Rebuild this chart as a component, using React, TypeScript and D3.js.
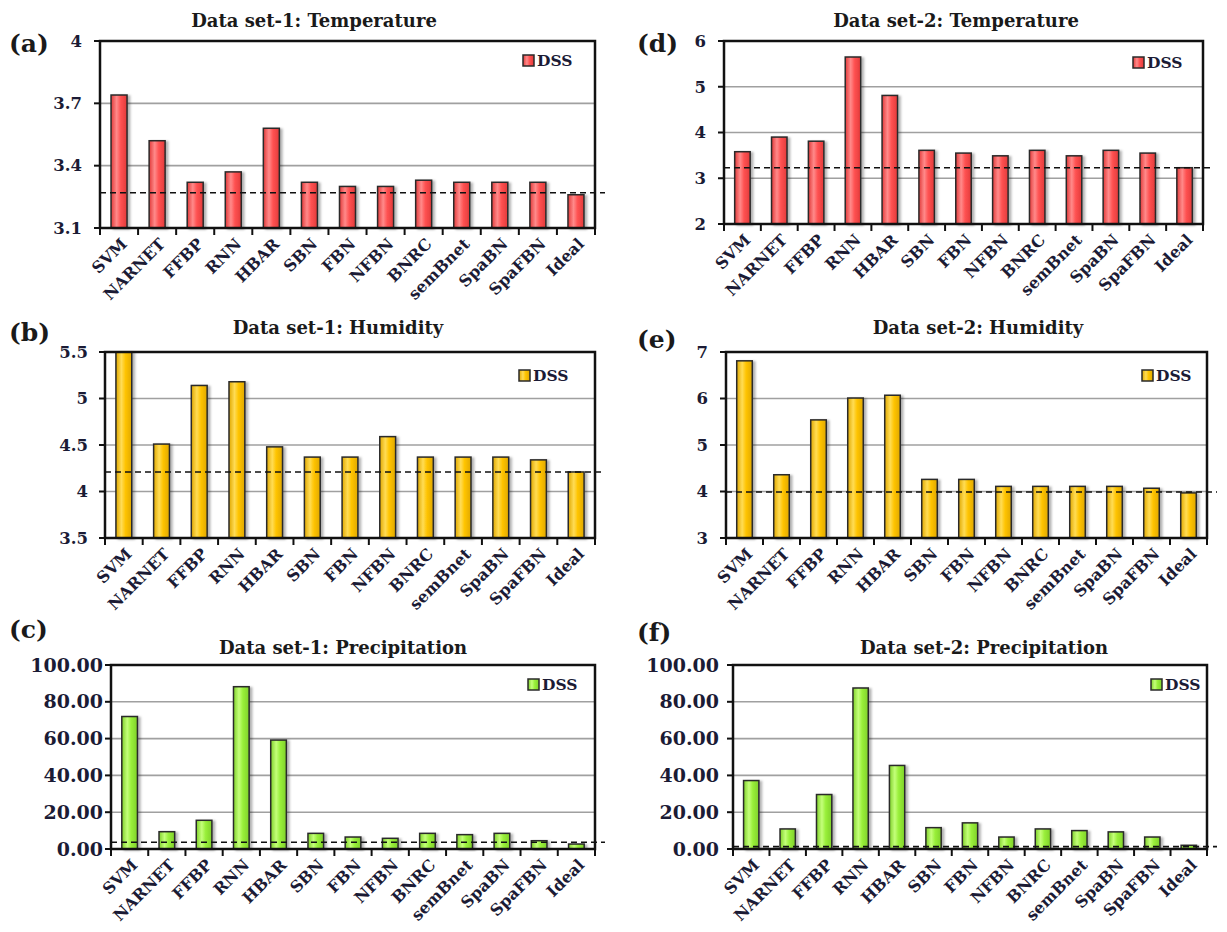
import React from "react";
import * as d3 from "d3";

const W = 1227;
const H = 932;

const methods = ["SVM", "NARNET", "FFBP", "RNN", "HBAR", "SBN", "FBN", "NFBN", "BNRC", "semBnet", "SpaBN", "SpaFBN", "Ideal"];

// DSS values
const temp1 = [3.74, 3.52, 3.32, 3.37, 3.58, 3.32, 3.30, 3.30, 3.33, 3.32, 3.32, 3.32, 3.26];
const hum1 = [5.5, 4.51, 5.14, 5.18, 4.48, 4.37, 4.37, 4.59, 4.37, 4.37, 4.37, 4.34, 4.21];
const prec1 = [72.0, 9.4, 15.6, 88.2, 59.2, 8.5, 6.5, 5.8, 8.5, 7.8, 8.5, 4.5, 2.7];
const temp2 = [3.58, 3.90, 3.81, 5.65, 4.81, 3.61, 3.55, 3.49, 3.61, 3.49, 3.61, 3.55, 3.23];
const hum2 = [6.81, 4.36, 5.54, 6.01, 6.07, 4.26, 4.26, 4.11, 4.11, 4.11, 4.11, 4.07, 3.97];
const prec2 = [37.2, 10.9, 29.6, 87.5, 45.4, 11.6, 14.2, 6.5, 10.9, 10.0, 9.3, 6.5, 2.0];

// dashed reference levels
const refLevels = { a: 3.27, b: 4.21, c: 3.7, d: 3.23, e: 3.99, f: 1.3 };

const ticksT1 = [3.1, 3.4, 3.7, 4];
const ticksH1 = [3.5, 4, 4.5, 5, 5.5];
const ticksP = [0, 20, 40, 60, 80, 100];
const ticksT2 = [2, 3, 4, 5, 6];
const ticksH2 = [3, 4, 5, 6, 7];

const titles = {
  a: "Data set-1: Temperature",
  b: "Data set-1: Humidity",
  c: "Data set-1: Precipitation",
  d: "Data set-2: Temperature",
  e: "Data set-2: Humidity",
  f: "Data set-2: Precipitation",
};

const colors = {
  red: { base: "#ff5252", light: "#ff8a8a", dark: "#e23a3a" },
  yellow: { base: "#ffc400", light: "#ffdc55", dark: "#e0a800" },
  green: { base: "#99ef3a", light: "#c4ff7a", dark: "#7fd12a" },
};

const FONT = "'DejaVu Serif', serif";
const INK = "#1b1b35";

type PanelDef = {
  key: string;
  values: number[];
  ticks: number[];
  fmt: (d: number) => string;
  color: keyof typeof colors;
  left: number; right: number; top: number; bottom: number;
  titleX: number; titleY: number;
  letterX: number; letterY: number;
  legendDx: number; legendDy: number;
  tickSize: number; labelGap: number;
};

const plain = (d: number) => String(d);
const two = d3.format(".2f");

const panels: PanelDef[] = [
  { key: "a", values: temp1, ticks: ticksT1, fmt: plain, color: "red", left: 100, right: 595, top: 41, bottom: 228, titleX: 314, titleY: 27, letterX: 9, letterY: 52, legendDx: -72, legendDy: 14, tickSize: 16.5, labelGap: 18 },
  { key: "b", values: hum1, ticks: ticksH1, fmt: plain, color: "yellow", left: 105, right: 595, top: 352, bottom: 538, titleX: 338, titleY: 334, letterX: 9, letterY: 341, legendDx: -76, legendDy: 18, tickSize: 16.5, labelGap: 17 },
  { key: "c", values: prec1, ticks: ticksP, fmt: two, color: "green", left: 111, right: 595, top: 665, bottom: 849, titleX: 343, titleY: 654, letterX: 9, letterY: 638, legendDx: -67, legendDy: 14, tickSize: 19, labelGap: 8 },
  { key: "d", values: temp2, ticks: ticksT2, fmt: plain, color: "red", left: 724, right: 1203, top: 41, bottom: 224, titleX: 956, titleY: 27, letterX: 637, letterY: 52, legendDx: -70, legendDy: 16, tickSize: 16.5, labelGap: 18 },
  { key: "e", values: hum2, ticks: ticksH2, fmt: plain, color: "yellow", left: 726, right: 1207, top: 352, bottom: 538, titleX: 978, titleY: 334, letterX: 637, letterY: 348, legendDx: -65, legendDy: 18, tickSize: 16.5, labelGap: 18 },
  { key: "f", values: prec2, ticks: ticksP, fmt: two, color: "green", left: 733, right: 1207, top: 665, bottom: 849, titleX: 984, titleY: 654, letterX: 637, letterY: 641, legendDx: -56, legendDy: 14, tickSize: 19, labelGap: 14 },
];

function Panel({ p }: { p: PanelDef }) {
  const x = d3.scaleBand<string>()
    .domain(methods)
    .range([p.left, p.right])
    .paddingInner(0.58)
    .paddingOuter(0.29);
  const y = d3.scaleLinear()
    .domain([p.ticks[0], p.ticks[p.ticks.length - 1]])
    .range([p.bottom, p.top]);
  const step = x.step();
  const bounds = d3.range(methods.length + 1).map(i => p.left + i * step);
  const ref = refLevels[p.key as keyof typeof refLevels];
  const legX = p.right + p.legendDx;
  const legY = p.top + p.legendDy;

  return (
    <g>
      <text x={p.titleX} y={p.titleY} textAnchor="middle" fontFamily={FONT} fontWeight="bold" fontSize={18} fill="#1a1a1a">
        {titles[p.key as keyof typeof titles]}
      </text>
      <text x={p.letterX} y={p.letterY} fontFamily={FONT} fontWeight="bold" fontSize={25} fill="#1a1a1a">
        ({p.key})
      </text>

      {/* gridlines */}
      {p.ticks.slice(1, -1).map(t => (
        <line key={t} x1={p.left} x2={p.right} y1={y(t)} y2={y(t)} stroke="#a0a0a0" strokeWidth={1.6} />
      ))}

      {/* bars */}
      {p.values.map((v, i) => (
        <rect
          key={methods[i]}
          x={x(methods[i])}
          y={y(v)}
          width={x.bandwidth()}
          height={p.bottom - y(v)}
          fill={`url(#grad-${p.color})`}
          stroke="#2a2a2a"
          strokeWidth={1.5}
          filter="url(#shadow)"
        />
      ))}

      {/* dashed reference */}
      <line x1={p.left} x2={p.right + 10} y1={y(ref)} y2={y(ref)} stroke="#111" strokeWidth={1.6} strokeDasharray="6,4" />

      {/* frame */}
      <rect x={p.left} y={p.top} width={p.right - p.left} height={p.bottom - p.top} fill="none" stroke="#111" strokeWidth={2.5} />

      {/* y ticks */}
      {p.ticks.map(t => (
        <g key={t}>
          <line x1={p.left - 6} x2={p.left} y1={y(t)} y2={y(t)} stroke="#111" strokeWidth={2} />
          <text x={p.left - p.labelGap} y={y(t)} dy="0.35em" textAnchor="end" fontFamily={FONT} fontWeight="bold" fontSize={p.tickSize} fill={INK}>
            {p.fmt(t)}
          </text>
        </g>
      ))}

      {/* x ticks */}
      {bounds.map((b, i) => (
        <line key={i} x1={b} x2={b} y1={p.bottom} y2={p.bottom + 7} stroke="#111" strokeWidth={2} />
      ))}
      {methods.map(m => {
        const cx = (x(m) as number) + x.bandwidth() / 2 + 9;
        const cy = p.bottom + 17;
        return (
          <text key={m} x={cx} y={cy} transform={`rotate(-45, ${cx}, ${cy})`} textAnchor="end" fontFamily={FONT} fontWeight="bold" fontSize={16} fill={INK}>
            {m}
          </text>
        );
      })}

      {/* legend */}
      <rect x={legX} y={legY} width={11} height={11} fill={`url(#grad-${p.color})`} stroke="#2a2a2a" strokeWidth={1.5} />
      <text x={legX + 14} y={legY + 11} fontFamily={FONT} fontWeight="bold" fontSize={15.5} fill={INK}>DSS</text>
    </g>
  );
}

export default function App() {
  return (
    <svg width={W} height={H} style={{ position: "absolute", left: 0, top: 0, background: "#fff" }}>
      <defs>
        {Object.entries(colors).map(([k, c]) => (
          <linearGradient key={k} id={`grad-${k}`} x1="0" y1="0" x2="1" y2="0">
            <stop offset="0%" stopColor={c.dark} />
            <stop offset="35%" stopColor={c.light} />
            <stop offset="60%" stopColor={c.base} />
            <stop offset="100%" stopColor={c.dark} />
          </linearGradient>
        ))}
        <filter id="shadow" x="-30%" y="-10%" width="170%" height="130%">
          <feDropShadow dx="2.5" dy="1" stdDeviation="1.2" floodColor="#000" floodOpacity="0.3" />
        </filter>
      </defs>
      <rect width={W} height={H} fill="#fff" />
      {panels.map(p => <Panel key={p.key} p={p} />)}
    </svg>
  );
}
